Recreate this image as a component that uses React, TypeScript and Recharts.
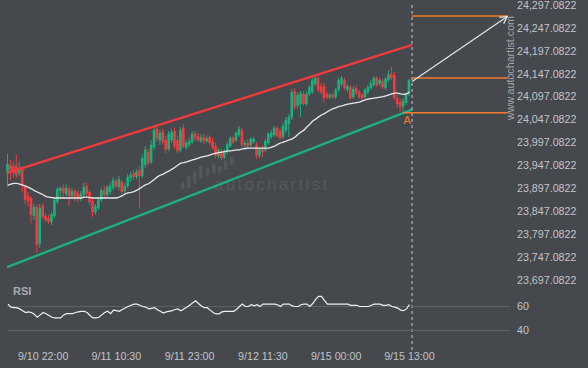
import React from 'react';
import { ComposedChart, Bar, Line, XAxis, YAxis, ReferenceLine, ReferenceDot } from 'recharts';

// candles, 30 min bars, index 0..137
const opens = [
  23930, 23948, 23946, 23946, 23930, 23941, 23902, 23880, 23876, 23837,
  23856, 23776, 23858, 23837, 23832, 23824, 23837, 23867, 23891, 23898,
  23885, 23896, 23880, 23891, 23887, 23874, 23883, 23902, 23889, 23869,
  23845, 23854, 23872, 23893, 23883, 23889, 23898, 23913, 23900, 23911,
  23891, 23902, 23920, 23930, 23922, 23937, 23924, 23948, 23976, 23955,
  23987, 24027, 24002, 24020, 24002, 23983, 24002, 24022, 24002, 23981,
  24029, 23985, 23992, 23998, 24016, 24011, 24000, 24009, 24000, 24009,
  24000, 23989, 23968, 23978, 23965, 23976, 23989, 24007, 24002, 24013,
  24024, 23992, 23996, 23992, 23998, 23992, 23968, 23985, 23981, 23996,
  24009, 24013, 24029, 24022, 24009, 24024, 24037, 24051, 24109, 24077,
  24081, 24103, 24081, 24103, 24107, 24125, 24138, 24120, 24120, 24103,
  24096, 24101, 24096, 24112, 24125, 24133, 24112, 24118, 24096, 24116,
  24107, 24101, 24096, 24107, 24116, 24122, 24138, 24125, 24131, 24116,
  24133, 24146, 24144, 24094, 24085, 24075, 24083, 24103,
];
const highs = [
  23972, 23959, 23955, 23970, 23955, 23946, 23906, 23889, 23880, 23863,
  23861, 23863, 23865, 23843, 23839, 23845, 23876, 23900, 23902, 23906,
  23906, 23902, 23898, 23896, 23893, 23891, 23909, 23909, 23893, 23874,
  23863, 23876, 23898, 23902, 23904, 23909, 23922, 23920, 23924, 23915,
  23909, 23928, 23933, 23937, 23939, 23946, 23970, 23989, 23983, 24002,
  24033, 24037, 24024, 24027, 24011, 24022, 24027, 24029, 24011, 24031,
  24037, 24002, 24007, 24022, 24022, 24018, 24016, 24016, 24013, 24013,
  24007, 23996, 23985, 23983, 23983, 23998, 24011, 24011, 24022, 24033,
  24029, 24002, 24005, 24009, 24009, 23998, 23987, 23992, 24005, 24020,
  24024, 24033, 24033, 24027, 24040, 24053, 24059, 24114, 24116, 24107,
  24109, 24109, 24109, 24122, 24138, 24144, 24142, 24127, 24127, 24107,
  24105, 24105, 24116, 24138, 24142, 24138, 24125, 24122, 24120, 24122,
  24112, 24105, 24116, 24122, 24133, 24142, 24142, 24138, 24136, 24140,
  24155, 24162, 24151, 24101, 24092, 24094, 24107, 24136,
];
const lows = [
  23900, 23915, 23920, 23920, 23924, 23889, 23863, 23858, 23821, 23828,
  23756, 23767, 23830, 23824, 23819, 23817, 23832, 23863, 23878, 23876,
  23880, 23858, 23874, 23869, 23867, 23869, 23878, 23880, 23861, 23835,
  23839, 23850, 23867, 23876, 23878, 23883, 23893, 23896, 23893, 23885,
  23887, 23898, 23911, 23915, 23917, 23854, 23920, 23941, 23946, 23950,
  23981, 24000, 23992, 23992, 23974, 23978, 23996, 23983, 23974, 23976,
  23985, 23981, 23987, 23994, 24000, 23998, 23996, 23994, 23996, 23992,
  23981, 23963, 23963, 23959, 23961, 23972, 23985, 23994, 23998, 24009,
  23987, 23981, 23983, 23987, 23994, 23961, 23963, 23965, 23976, 23992,
  24005, 24009, 24007, 24002, 24005, 24018, 24009, 24046, 24068, 24070,
  24053, 24077, 24077, 24098, 24103, 24120, 24107, 24103, 24085, 24092,
  24092, 24092, 24092, 24107, 24120, 24112, 24107, 24090, 24092, 24101,
  24092, 24090, 24092, 24103, 24112, 24118, 24118, 24120, 24114, 24112,
  24129, 24133, 24090, 24072, 24064, 24064, 24079, 24098,
];
const closes = [
  23950, 23937, 23930, 23926, 23941, 23902, 23872, 23869, 23839, 23856,
  23773, 23854, 23835, 23828, 23824, 23841, 23872, 23896, 23898, 23887,
  23898, 23880, 23891, 23878, 23874, 23885, 23900, 23885, 23867, 23845,
  23858, 23872, 23893, 23883, 23900, 23902, 23915, 23902, 23917, 23889,
  23902, 23922, 23926, 23922, 23933, 23924, 23963, 23981, 23952, 23992,
  24024, 24007, 24018, 23998, 23981, 24016, 24020, 23989, 23978, 24024,
  23989, 23996, 24000, 24016, 24007, 24002, 24009, 24000, 24007, 23996,
  23985, 23968, 23981, 23963, 23978, 23994, 24007, 23998, 24018, 24027,
  23992, 23996, 23989, 24005, 24005, 23968, 23983, 23976, 24000, 24016,
  24018, 24029, 24011, 24007, 24033, 24046, 24053, 24107, 24075, 24101,
  24105, 24081, 24103, 24118, 24133, 24138, 24112, 24107, 24094, 24096,
  24101, 24096, 24112, 24133, 24138, 24116, 24120, 24094, 24114, 24105,
  24096, 24094, 24112, 24118, 24127, 24138, 24122, 24133, 24118, 24136,
  24146, 24138, 24094, 24081, 24075, 24088, 24103, 24133,
];
const maValues = [
  23904, 23906, 23908, 23908, 23906, 23904, 23902, 23899, 23896, 23892,
  23889, 23886, 23883, 23879, 23878, 23877, 23876, 23876, 23876, 23876,
  23876, 23876, 23876, 23876, 23876, 23876, 23878, 23878, 23877, 23876,
  23876, 23876, 23876, 23876, 23876, 23876, 23876, 23876, 23878, 23881,
  23885, 23887, 23888, 23890, 23893, 23897, 23901, 23905, 23907, 23912,
  23917, 23922, 23926, 23928, 23932, 23935, 23939, 23943, 23948, 23952,
  23953, 23955, 23957, 23959, 23961, 23963, 23965, 23967, 23968, 23970,
  23972, 23974, 23975, 23976, 23977, 23979, 23979, 23980, 23981, 23981,
  23983, 23984, 23985, 23985, 23985, 23985, 23985, 23985, 23985, 23985,
  23987, 23989, 23993, 23996, 23998, 24000, 24003, 24005, 24009, 24015,
  24020, 24024, 24031, 24037, 24044, 24048, 24053, 24057, 24060, 24064,
  24068, 24071, 24073, 24076, 24077, 24079, 24081, 24082, 24083, 24084,
  24085, 24088, 24090, 24092, 24093, 24094, 24095, 24096, 24097, 24099,
  24101, 24103, 24105, 24105, 24103, 24102, 24103, 24107,
];
const rsiValues = [
  62, 59.5, 59, 59, 58, 56.5, 55, 55.5, 55, 53.5,
  51, 53, 55, 54, 52.5, 51, 50.5, 50.5, 50.5, 53,
  54, 54, 54, 55, 55.5, 56, 56, 55, 52.5, 50.5,
  50.5, 51, 53, 55, 56, 54, 57, 56.5, 56, 57.5,
  58.7, 60, 61, 62, 62, 61, 60, 59.5, 58, 58.5,
  59, 57.3, 56, 54.6, 55.5, 56, 56.5, 57.5, 58, 56.5,
  58, 59.3, 61, 63, 64.8, 62.5, 60.5, 59, 59, 57,
  55, 53.8, 53.8, 55.5, 56, 56, 56, 56, 57.5, 60,
  62, 60, 60, 61.5, 60.5, 61.5, 60, 62, 62, 62,
  62, 62, 61.5, 60, 62, 62, 62, 60.5, 60, 60,
  61.5, 62, 62, 60, 62.5, 66, 68.5, 68.5, 65, 62,
  62, 62, 62, 62, 62, 62, 62, 61, 61, 61,
  60, 60, 60, 60, 61, 62, 62, 62, 61, 61,
  61.5, 60, 59.5, 58.7, 57, 56.5, 58, 61.5,
];

const timeTicks = [12, 37, 62, 87, 112, 137];
const timeLabels = ['9/10 22:00', '9/11 10:30', '9/11 23:00', '9/12 11:30', '9/15 00:00', '9/15 13:00'];
const priceTicks = [
  24297.0822, 24247.0822, 24197.0822, 24147.0822, 24097.0822, 24047.0822, 23997.0822,
  23947.0822, 23897.0822, 23847.0822, 23797.0822, 23747.0822, 23697.0822,
];
const rsiTicks = [40, 60];

// pattern overlay (index, price)
const upperChannel = [{ x: -0.3, y: 23931 }, { x: 137.9, y: 24210 }];
const lowerChannel = [{ x: -0.3, y: 23725 }, { x: 137.9, y: 24069 }];
const forecastLevels = [
  { from: 137.9, to: 170.6, price: 24273 },
  { from: 137.9, to: 170.6, price: 24138 },
  { from: 134.8, to: 170.6, price: 24062 },
];
const forecastArrow = [{ x: 137.9, y: 24130 }, { x: 170.4, y: 24272 }];
const pointA = { x: 136.2, y: 24062 };
const currentBar = 137.9;

const X_DOMAIN = [-2.73, 171.33];
const PRICE_DOMAIN = [23544.3, 24297.0822];
const RSI_DOMAIN = [30, 75];

const BG = '#45484d';
const UP = '#1cb07c';
const DOWN = '#f03c3e';
const ORANGE = '#f47b2e';
const AXIS_TEXT = '#c2c5c9';
const FONT = '"Liberation Sans", Arial, sans-serif';

const Candle = (props: any) => {
  const { x, y, width, height, payload } = props;
  if (!payload) return null;
  const { open, close, high, low } = payload;
  const top = Math.min(y, y + height);
  const h = Math.abs(height);
  const k = h / (high - low || 1);
  const yo = top + (high - open) * k;
  const yc = top + (high - close) * k;
  const color = close >= open ? UP : DOWN;
  const cx = x + width / 2;
  return (
    <g>
      <line x1={cx} x2={cx} y1={top} y2={top + h} stroke={color} strokeWidth={1} />
      <rect x={x - 0.3} y={Math.min(yo, yc)} width={width + 0.6} height={Math.max(1, Math.abs(yc - yo))} fill={color} />
    </g>
  );
};

const Arrow = (p: any) => {
  const { x1, y1, x2, y2 } = p;
  const a = Math.atan2(y2 - y1, x2 - x1);
  const L = 8;
  const ax = x2 - L * Math.cos(a - 0.5);
  const ay = y2 - L * Math.sin(a - 0.5);
  const bx = x2 - L * Math.cos(a + 0.5);
  const by = y2 - L * Math.sin(a + 0.5);
  return (
    <g>
      <line x1={x1} y1={y1} x2={x2} y2={y2} stroke="#e6e6e6" strokeWidth={1.2} />
      <polyline points={`${ax},${ay} ${x2},${y2} ${bx},${by}`} fill="none" stroke="#e6e6e6" strokeWidth={1.2} />
    </g>
  );
};

const fmtPrice = (v: number) =>
  v.toLocaleString('en-US', { minimumFractionDigits: 4, maximumFractionDigits: 4 });

// faint watermark logo bars
const logoBars = [
  [181, 182, 7], [187, 176, 12], [193, 171, 13], [199, 165, 14],
  [206, 168, 8], [212, 163, 11], [218, 166, 7], [224, 160, 10], [230, 156, 9],
];

export default function App() {
  const data = opens.map((o, i) => ({
    i,
    open: o,
    high: highs[i],
    low: lows[i],
    close: closes[i],
    range: [lows[i], highs[i]],
    ma: maValues[i],
    rsi: rsiValues[i],
  }));

  const tickStyle = { fill: AXIS_TEXT, fontSize: 10.7, fontFamily: FONT };

  return (
    <div style={{ position: 'fixed', left: 0, top: 0, width: 588, height: 368, background: BG, fontFamily: FONT, overflow: 'hidden' }}>
      <svg width={588} height={368} style={{ position: 'absolute', left: 0, top: 0 }}>
        {logoBars.map(([x, y, h], k) => (
          <rect key={k} x={x} y={y} width={3.5} height={h} rx={1.5} fill="#54575c" />
        ))}
        <text x={214} y={190} fontSize={17} letterSpacing={2.3} fill="#55585d" fontFamily={FONT}>autochartist</text>
        <text x={0} y={0} transform="translate(514,68) rotate(-90)" textAnchor="middle" fontSize={10.7} fill="#a3a6aa" fontFamily={FONT}>www.autochartist.com</text>
        <text x={13} y={295} fontSize={11} fontWeight="bold" fill="#a8abaf" fontFamily={FONT}>RSI</text>
      </svg>

      <div style={{ position: 'absolute', left: 0, top: 0 }}>
        <ComposedChart width={588} height={368} data={data} margin={{ top: 5, right: 0, bottom: 18, left: 0 }}>
          <XAxis dataKey="i" type="number" domain={X_DOMAIN} allowDataOverflow hide />
          <YAxis
            orientation="right"
            width={78}
            domain={PRICE_DOMAIN}
            allowDataOverflow
            ticks={priceTicks}
            tickFormatter={fmtPrice}
            axisLine={false}
            tickLine={false}
            tickSize={0}
            tickMargin={7}
            tick={tickStyle}
            interval={0}
          />
          <ReferenceLine segment={upperChannel} stroke="#ef3b3c" strokeWidth={2.4} />
          <ReferenceLine segment={lowerChannel} stroke="#1db07d" strokeWidth={2.4} />
          <Bar dataKey="range" barSize={2} shape={<Candle />} isAnimationActive={false} />
          <Line dataKey="ma" type="linear" stroke="#e8e8e8" strokeWidth={1.3} dot={false} isAnimationActive={false} />
          <ReferenceLine x={currentBar} stroke="#c9c9c9" strokeDasharray="3 3" strokeWidth={1} />
          {forecastLevels.map((l, k) => (
            <ReferenceLine key={k} segment={[{ x: l.from, y: l.price }, { x: l.to, y: l.price }]} stroke={ORANGE} strokeWidth={1.5} />
          ))}
          <ReferenceLine segment={forecastArrow} shape={<Arrow />} />
          <ReferenceDot
            x={pointA.x}
            y={pointA.y}
            r={0}
            shape={(p: any) => (
              <text x={p.cx} y={p.cy + 11} textAnchor="middle" fontSize={11} fill={ORANGE} fontFamily={FONT}>A</text>
            )}
          />
        </ComposedChart>
      </div>

      <div style={{ position: 'absolute', left: 0, top: 0 }}>
        <ComposedChart width={588} height={368} data={data} margin={{ top: 288.5, right: 0, bottom: 0, left: 0 }}>
          <XAxis
            dataKey="i"
            type="number"
            domain={X_DOMAIN}
            allowDataOverflow
            ticks={timeTicks}
            interval={0}
            tickFormatter={(v: number) => timeLabels[timeTicks.indexOf(v)]}
            height={25.5}
            axisLine={false}
            tickLine={false}
            tickSize={0}
            tickMargin={9.5}
            tick={tickStyle}
          />
          <YAxis
            orientation="right"
            width={78}
            domain={RSI_DOMAIN}
            allowDataOverflow
            ticks={rsiTicks}
            axisLine={false}
            tickLine={false}
            tickSize={0}
            tickMargin={7}
            tick={tickStyle}
          />
          {rsiTicks.map((t) => (
            <ReferenceLine key={t} segment={[{ x: -0.3, y: t }, { x: 171.3, y: t }]} stroke="#5e6166" strokeWidth={1} />
          ))}
          <Line dataKey="rsi" type="linear" stroke="#f0f0f0" strokeWidth={1.2} dot={false} isAnimationActive={false} />
        </ComposedChart>
      </div>
    </div>
  );
}
